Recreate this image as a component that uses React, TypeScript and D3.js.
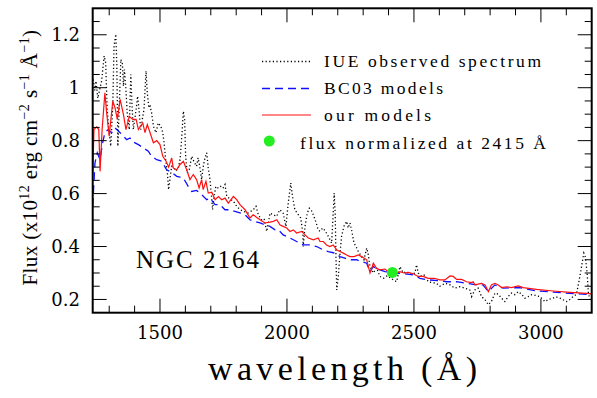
import React from "react";
import * as d3 from "d3";

// IUE observed spectrum [wavelength Å, flux]
const iueWave = [1237,1243,1248,1255,1262,1270,1280,1286,1292,1298,1306,1314,1319,1326,1330,1334,1340,1346,1352,1356,1360,1366,1371,1379,1385,1390,1395,1406,1412,1418,1424,1432,1437,1445,1450,1456,1461,1467,1474,1484,1493,1503,1511,1516,1522,1529,1534,1540,1546,1555,1562,1572,1579,1585,1592,1597,1601,1607,1615,1625,1634,1644,1650,1657,1664,1670,1677,1684,1690,1697,1704,1707,1713,1720,1730,1739,1748,1756,1763,1776,1789,1802,1815,1828,1848,1867,1878,1887,1900,1910,1920,1927,1933,1946,1959,1972,1985,1996,2005,2015,2022,2031,2045,2054,2062,2064,2071,2080,2088,2097,2106,2115,2123,2130,2141,2150,2163,2176,2182,2186,2190,2193,2196,2202,2209,2215,2224,2235,2241,2248,2255,2264,2272,2281,2294,2303,2314,2320,2327,2340,2353,2366,2380,2395,2419,2432,2445,2458,2470,2484,2504,2510,2517,2530,2543,2556,2570,2589,2602,2622,2642,2661,2681,2700,2720,2727,2740,2753,2766,2780,2793,2805,2819,2832,2845,2858,2871,2884,2897,2911,2924,2937,2950,2963,2980,2996,3016,3030,3048,3060,3075,3087,3101,3114,3127,3140,3151,3160,3169,3175,3182,3187,3193];
const iueFlux = [1.031,0.99,1.025,0.96,0.99,1.025,1.12,1.095,0.918,0.85,0.779,0.93,1.157,1.202,1.082,0.779,0.943,1.107,1.09,1.006,1.069,0.99,0.905,0.842,1.05,0.93,0.842,0.918,0.968,0.91,0.842,0.89,0.918,1.063,0.981,0.924,0.93,0.905,0.855,0.83,0.867,0.855,0.83,0.792,0.73,0.678,0.615,0.66,0.703,0.697,0.685,0.697,0.728,0.804,0.911,0.88,0.741,0.678,0.69,0.741,0.72,0.703,0.735,0.7,0.653,0.7,0.735,0.754,0.697,0.653,0.577,0.539,0.589,0.627,0.62,0.627,0.62,0.634,0.589,0.58,0.571,0.552,0.54,0.533,0.527,0.539,0.552,0.52,0.501,0.505,0.457,0.49,0.526,0.52,0.514,0.539,0.526,0.476,0.564,0.64,0.589,0.539,0.52,0.508,0.457,0.4,0.476,0.526,0.545,0.535,0.514,0.49,0.463,0.458,0.47,0.46,0.438,0.413,0.526,0.602,0.52,0.362,0.236,0.286,0.375,0.438,0.476,0.495,0.47,0.489,0.46,0.413,0.4,0.381,0.362,0.35,0.394,0.37,0.324,0.3,0.32,0.287,0.28,0.29,0.274,0.267,0.324,0.3,0.305,0.295,0.3,0.331,0.3,0.287,0.293,0.267,0.264,0.261,0.25,0.261,0.255,0.243,0.248,0.243,0.236,0.211,0.236,0.243,0.211,0.199,0.18,0.192,0.224,0.22,0.205,0.192,0.211,0.224,0.218,0.23,0.22,0.205,0.211,0.218,0.215,0.211,0.192,0.2,0.205,0.21,0.205,0.199,0.192,0.2,0.211,0.22,0.274,0.324,0.375,0.36,0.3,0.224,0.199];

// BC03 models
const bcWave = [1235,1244,1253,1264,1274,1283,1296,1310,1323,1343,1356,1369,1382,1395,1415,1434,1454,1467,1487,1507,1526,1546,1566,1579,1592,1611,1625,1644,1664,1684,1697,1717,1736,1756,1776,1795,1815,1835,1854,1874,1894,1913,1933,1953,1966,1985,2012,2038,2064,2091,2117,2143,2163,2189,2209,2228,2248,2274,2294,2314,2327,2340,2353,2366,2386,2432,2497,2524,2556,2602,2628,2668,2707,2747,2772,2793,2819,2851,2917,2983,3048,3114,3179,3199];
const bcFlux = [0.552,0.716,0.754,0.728,0.792,0.83,0.842,0.83,0.848,0.83,0.817,0.804,0.81,0.795,0.785,0.773,0.76,0.741,0.728,0.722,0.69,0.68,0.665,0.662,0.659,0.627,0.608,0.612,0.596,0.577,0.583,0.558,0.558,0.539,0.539,0.533,0.527,0.52,0.501,0.495,0.489,0.482,0.476,0.463,0.463,0.444,0.432,0.419,0.406,0.406,0.4,0.387,0.381,0.375,0.362,0.356,0.35,0.35,0.343,0.337,0.305,0.325,0.315,0.312,0.305,0.3,0.293,0.28,0.274,0.271,0.267,0.267,0.261,0.255,0.255,0.23,0.255,0.243,0.245,0.232,0.228,0.223,0.219,0.218];

// our models
const ourWave = [1235,1240,1251,1259,1264,1272,1283,1290,1300,1314,1323,1332,1343,1356,1366,1379,1393,1406,1415,1432,1441,1450,1461,1474,1487,1500,1511,1524,1534,1546,1552,1566,1579,1592,1605,1618,1631,1644,1654,1664,1670,1681,1690,1704,1717,1730,1743,1756,1769,1789,1802,1815,1835,1854,1867,1881,1894,1913,1933,1946,1960,1972,1985,1999,2012,2025,2038,2058,2071,2084,2104,2123,2130,2143,2156,2169,2182,2196,2209,2222,2235,2248,2264,2281,2294,2314,2327,2334,2340,2353,2366,2386,2399,2415,2432,2445,2460,2478,2497,2517,2536,2556,2580,2602,2622,2642,2655,2668,2688,2707,2727,2733,2740,2753,2766,2780,2793,2805,2819,2832,2845,2865,2884,2911,2930,2983,3048,3114,3180,3199];
const ourFlux = [0.667,0.842,0.852,0.842,0.684,0.84,0.981,0.905,0.817,0.949,0.924,0.88,0.956,0.899,0.842,0.892,0.88,0.88,0.842,0.867,0.83,0.861,0.83,0.792,0.8,0.785,0.741,0.722,0.7,0.735,0.697,0.69,0.71,0.722,0.69,0.653,0.672,0.653,0.621,0.653,0.615,0.646,0.602,0.605,0.577,0.589,0.577,0.583,0.564,0.589,0.577,0.558,0.539,0.508,0.52,0.51,0.501,0.489,0.492,0.495,0.501,0.482,0.476,0.47,0.457,0.463,0.451,0.457,0.444,0.432,0.425,0.432,0.419,0.419,0.406,0.4,0.406,0.387,0.381,0.375,0.368,0.362,0.362,0.368,0.362,0.35,0.3,0.318,0.337,0.318,0.312,0.315,0.305,0.302,0.3,0.305,0.3,0.302,0.297,0.287,0.287,0.28,0.28,0.274,0.274,0.289,0.287,0.276,0.276,0.267,0.264,0.267,0.255,0.258,0.261,0.255,0.23,0.255,0.261,0.255,0.245,0.248,0.245,0.251,0.245,0.238,0.232,0.227,0.223,0.221];

const normPoint = { wave: 2415, flux: 0.302 };

const xTicksMajor = [1500, 2000, 2500, 3000];
const yTicksMajor = [0.2, 0.4, 0.6, 0.8, 1.0, 1.2];
const yTickLabels = ["0.2", "0.4", "0.6", "0.8", "1", "1.2"];

const FONT = "'DejaVu Serif', serif";
const THIN = "'Liberation Serif', serif";

export default function App() {
  const W = 597, H = 398;
  const L = 92.7, R = 591.7, T = 8.3, B = 312.7;
  const x = d3.scaleLinear().domain([1235, 3200]).range([L, R]);
  const y = d3.scaleLinear().domain([0.15, 1.3]).range([B, T]);

  const line = d3.line<[number, number]>().x(d => x(d[0])).y(d => y(d[1]));
  const iue = line(iueWave.map((w, i) => [w, iueFlux[i]]));
  const bc = line(bcWave.map((w, i) => [w, bcFlux[i]]));
  const our = line(ourWave.map((w, i) => [w, ourFlux[i]]));

  const xMinor = d3.range(1300, 3200, 100).filter(v => v % 500 !== 0);
  const yMinor = d3.range(0.25, 1.3, 0.05).map(v => Math.round(v * 100) / 100).filter(v => Math.abs(v * 5 - Math.round(v * 5)) > 1e-6);

  const maj = 14, min = 7;

  return (
    <svg width={W} height={H} style={{ position: "absolute", left: 0, top: 0, background: "#fff" }}>
      <defs>
        <clipPath id="plot"><rect x={L} y={T} width={R - L} height={B - T} /></clipPath>
      </defs>
      <g clipPath="url(#plot)" fill="none">
        <path d={iue || ""} stroke="#000" strokeWidth={1.3} strokeDasharray="1.2,2.4" />
        <path d={bc || ""} stroke="#1010ff" strokeWidth={1.3} strokeDasharray="8,5" />
        <path d={our || ""} stroke="#ff1010" strokeWidth={1.2} />
      </g>
      <circle cx={x(normPoint.wave)} cy={y(normPoint.flux)} r={5.5} fill="#22ee22" />

      {/* ticks */}
      <g stroke="#000" strokeWidth={1}>
        {xTicksMajor.map(v => (
          <g key={"xM" + v}>
            <line x1={x(v)} x2={x(v)} y1={B} y2={B - maj} />
            <line x1={x(v)} x2={x(v)} y1={T} y2={T + maj} />
          </g>
        ))}
        {xMinor.map(v => (
          <g key={"xm" + v}>
            <line x1={x(v)} x2={x(v)} y1={B} y2={B - min} />
            <line x1={x(v)} x2={x(v)} y1={T} y2={T + min} />
          </g>
        ))}
        {yTicksMajor.map(v => (
          <g key={"yM" + v}>
            <line x1={L} x2={L + maj} y1={y(v)} y2={y(v)} />
            <line x1={R} x2={R - maj} y1={y(v)} y2={y(v)} />
          </g>
        ))}
        {yMinor.map(v => (
          <g key={"ym" + v}>
            <line x1={L} x2={L + min} y1={y(v)} y2={y(v)} />
            <line x1={R} x2={R - min} y1={y(v)} y2={y(v)} />
          </g>
        ))}
      </g>
      <rect x={L} y={T} width={R - L} height={B - T} fill="none" stroke="#000" strokeWidth={2} />

      {/* tick labels */}
      <g fontFamily={FONT} fontSize={18} fill="#000">
        {xTicksMajor.map(v => (
          <text key={"xl" + v} x={x(v)} y={339} textAnchor="middle">{v}</text>
        ))}
        {yTicksMajor.map((v, i) => (
          <text key={"yl" + v} x={80} y={y(v) + 6.5} textAnchor="end">{yTickLabels[i]}</text>
        ))}
      </g>

      {/* axis titles */}
      <text x={342.5} y={380} textAnchor="middle" fontFamily={THIN} fontSize={34} textLength={269} lengthAdjust="spacing">wavelength (Å)</text>
      <text transform="translate(37,157.5) rotate(-90)" textAnchor="middle" fontFamily={THIN} fontSize={21} letterSpacing={0.4}>
        Flux (x10<tspan dy={-8} fontSize={14}>12</tspan><tspan dy={8}> erg cm</tspan><tspan dy={-8} fontSize={14}>−2</tspan><tspan dy={8}> s</tspan><tspan dy={-8} fontSize={14}>−1</tspan><tspan dy={8}> Å</tspan><tspan dy={-8} fontSize={14}>−1</tspan><tspan dy={8}>)</tspan>
      </text>

      <text x={136} y={268} fontFamily={THIN} fontSize={25} textLength={123} lengthAdjust="spacing">NGC 2164</text>

      {/* legend */}
      <g fontFamily={THIN} fontSize={17.5} fill="#000">
        <line x1={262} x2={311} y1={61.5} y2={61.5} stroke="#000" strokeWidth={1.3} strokeDasharray="1.2,2.4" />
        <text x={324} y={66.5} textLength={217} lengthAdjust="spacing">IUE observed spectrum</text>
        <line x1={262} x2={311} y1={88.5} y2={88.5} stroke="#1010ff" strokeWidth={1.3} strokeDasharray="8,5" />
        <text x={324} y={94} textLength={119} lengthAdjust="spacing">BC03 models</text>
        <line x1={262} x2={311} y1={115} y2={115} stroke="#ff1010" strokeWidth={1.2} />
        <text x={324} y={121} textLength={107} lengthAdjust="spacing">our models</text>
        <circle cx={269.3} cy={141} r={5.5} fill="#22ee22" />
        <text x={300} y={148.5} textLength={246} lengthAdjust="spacing">flux normalized at 2415 Å</text>
      </g>
    </svg>
  );
}
